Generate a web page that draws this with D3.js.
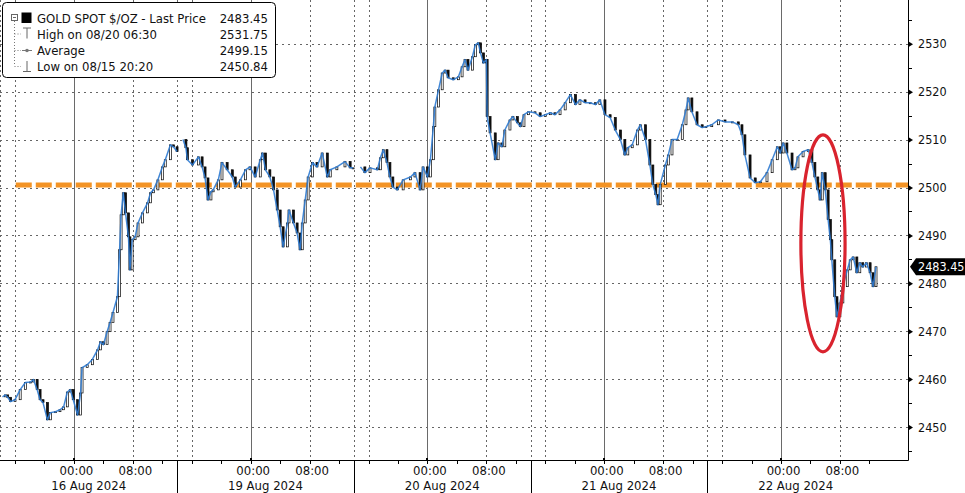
<!DOCTYPE html>
<html><head><meta charset="utf-8">
<script src="https://cdn.jsdelivr.net/npm/d3@7"></script>
<style>
body{margin:0;background:#fff}
svg{display:block}
text{font-family:'DejaVu Sans Condensed','Liberation Sans',sans-serif;fill:#111}
</style>
</head><body><svg id="c" width="965" height="493"></svg>
<script>
// ---------- DATA ----------
// time = trading hours since 15 Aug 14:00 (weekend collapsed, 24h per date block)
const day16 = [[0.3,2456.3],[0.7,2456.7],[1.0,2456.2],[1.4,2455.3],[2.0,2455.7],[2.7,2457.8],[3.4,2459.3],[4.1,2459.4],[4.5,2459.9],[5.0,2457.8],[5.4,2455.7],[5.8,2455.1],[6.4,2451.5],[6.8,2453.0],[7.5,2453.2],[8.1,2453.6],[8.6,2454.2],[9.1,2457.3],[9.5,2457.8],[9.9,2455.7],[10.5,2452.5],[10.9,2457.1],[11.1,2462.4],[11.8,2463.0],[12.5,2464.1],[13.2,2466.1],[13.6,2467.8],[14.0,2467.2],[14.5,2469.9],[14.9,2471.8],[15.3,2473.9],[15.9,2477.2],[16.2,2487.0],[16.4,2494.3],[16.7,2498.9],[17.0,2494.7],[17.4,2489.7],[17.6,2482.8],[17.9,2489.1],[18.3,2489.7],[18.7,2492.6],[19.3,2494.7],[20.0,2496.8],[20.4,2498.9],[20.8,2499.5],[21.4,2501.6],[22.0,2504.3],[22.4,2505.8],[23.1,2508.9],[23.5,2508.5],[24.0,2507.5]];
const day19 = [[24.8,2510.0],[25.2,2508.3],[25.4,2505.8],[26.1,2504.7],[26.9,2506.4],[27.4,2504.3],[27.8,2502.0],[28.2,2497.4],[28.6,2499.1],[28.9,2499.5],[29.6,2501.6],[30.1,2505.2],[30.8,2503.7],[31.5,2502.2],[31.9,2500.1],[32.6,2501.6],[33.3,2503.7],[33.9,2504.3],[34.6,2502.2],[35.3,2505.8],[35.6,2507.2],[36.0,2503.7],[36.6,2502.2],[37.1,2499.5],[37.6,2495.3],[38.0,2491.8],[38.4,2487.6],[39.0,2492.6],[39.2,2495.3],[39.8,2492.6],[40.3,2490.5],[40.7,2487.0],[41.0,2492.6],[41.4,2497.4],[41.8,2502.2],[42.4,2505.2],[43.0,2504.3],[43.7,2507.2],[44.4,2502.2],[44.8,2503.7],[45.7,2504.3],[46.8,2505.4],[47.5,2504.1],[47.9,2504.1]];
const day20 = [[48.9,2504.3],[49.5,2503.1],[50.2,2504.1],[51.2,2503.7],[51.6,2506.2],[52.0,2507.9],[52.5,2505.2],[52.9,2502.2],[53.3,2500.1],[53.9,2499.5],[54.7,2501.6],[55.7,2502.2],[56.3,2503.1],[57.0,2499.5],[57.4,2504.3],[58.0,2502.2],[58.4,2505.8],[58.8,2512.7],[59.0,2516.8],[59.5,2520.4],[60.0,2523.9],[60.4,2524.5],[60.8,2522.9],[61.5,2522.5],[62.2,2523.1],[62.7,2525.2],[63.1,2526.7],[63.5,2524.5],[64.1,2527.3],[64.5,2529.8],[64.9,2530.2],[65.2,2528.1],[65.6,2526.0],[66.0,2526.7],[66.1,2514.8],[66.5,2511.4],[67.2,2505.8],[67.6,2509.3],[68.1,2508.5],[68.5,2512.0],[69.2,2514.1],[69.6,2514.8],[70.2,2513.5],[70.6,2512.7],[71.1,2515.2],[71.7,2515.8]];
const day21 = [[72.6,2515.6],[73.3,2514.8],[74.0,2515.2],[74.7,2515.6],[75.3,2515.2],[76.0,2516.2],[76.7,2517.7],[77.4,2519.4],[78.1,2517.3],[78.7,2518.3],[79.4,2517.7],[80.1,2517.7],[80.8,2517.3],[81.4,2518.3],[82.1,2515.2],[82.8,2514.6],[83.5,2512.0],[84.2,2510.0],[84.8,2506.8],[85.2,2508.3],[85.8,2508.9],[86.5,2512.0],[86.9,2513.1],[87.6,2510.0],[88.2,2504.7],[88.6,2500.6],[89.0,2498.5],[89.3,2496.4],[89.6,2500.6],[90.3,2504.7],[90.7,2506.8],[91.2,2510.0],[91.9,2510.0],[92.6,2513.1],[93.1,2516.2],[93.4,2518.7],[93.9,2515.8],[94.6,2513.1],[95.3,2512.5],[95.8,2512.7]];
const day22 = [[96.6,2513.1],[97.5,2514.1],[98.4,2513.7],[99.4,2513.7],[100.2,2513.1],[100.7,2511.0],[101.1,2506.8],[101.8,2502.0],[102.5,2501.0],[103.2,2501.2],[104.1,2503.1],[104.8,2505.8],[105.5,2508.5],[105.9,2507.2],[106.3,2509.3],[106.8,2507.2],[107.5,2503.7],[107.9,2504.1],[108.3,2506.4],[109.0,2507.5],[109.7,2507.9],[110.2,2505.2],[110.6,2502.2],[111.0,2499.5],[111.3,2497.4],[111.6,2503.1],[112.0,2499.5],[112.4,2493.3],[112.7,2489.1],[112.9,2484.9],[113.3,2477.2],[113.6,2473.0],[114.0,2475.9],[114.4,2479.3],[115.0,2482.8],[115.4,2484.9],[115.8,2485.5],[116.3,2482.2],[116.7,2484.3],[117.1,2483.4],[117.6,2484.3],[118.1,2482.2],[118.5,2479.3],[118.9,2483.45]];

const dayLabels = ["16 Aug 2024","19 Aug 2024","20 Aug 2024","21 Aug 2024","22 Aug 2024"];
const timeLabels = ["00:00","08:00"];
const timeLabelOffsets = [10, 18];      // hours after block start (14:00)
const yTicks = [2450,2460,2470,2480,2490,2500,2510,2520,2530];
const yMinorTicks = [2445,2455,2465,2475,2485,2495,2505,2515,2525,2535];
const lastPrice = 2483.45;
const refLevel = 2500.5;
const legendLabels = ["GOLD SPOT $/OZ - Last Price","High on 08/20 06:30","Average","Low on 08/15 20:20"];
const legendValues = ["2483.45","2531.75","2499.15","2450.84"];
const circleBox = {h0:108.7, h1:114.7, p0:2465.7, p1:2511.0};

// ---------- CHART ----------
const svg = d3.select("#c");
const plotR = 908, plotB = 460;
const x = d3.scaleLinear().domain([0,120]).range([0.3,884.1]);
const y = d3.scaleLinear().domain([2450,2530]).range([427,43.8]);

// grid
const grid = svg.append("g");
grid.selectAll(".hg").data(yTicks).join("line")
  .attr("x1",0).attr("x2",plotR).attr("y1",d=>Math.round(y(d))+0.5).attr("y2",d=>Math.round(y(d))+0.5)
  .attr("stroke","#666").attr("stroke-width",1).attr("stroke-dasharray","2,4");
const vDotted = [], vSolid = [];
dayLabels.forEach((_,i)=>{ const b=i*24; vDotted.push(b, b+2, b+18); vSolid.push(b+10); });
grid.selectAll(".vd").data(vDotted).join("line")
  .attr("x1",d=>Math.round(x(d))+0.5).attr("x2",d=>Math.round(x(d))+0.5).attr("y1",0).attr("y2",plotB)
  .attr("stroke","#666").attr("stroke-width",1).attr("stroke-dasharray","2,3");
grid.selectAll(".vs").data(vSolid).join("line")
  .attr("x1",d=>Math.round(x(d))+0.5).attr("x2",d=>Math.round(x(d))+0.5).attr("y1",0).attr("y2",plotB)
  .attr("stroke","#6a6a6a").attr("stroke-width",1);

// reference dashed line
svg.append("line").attr("x1",x(2.1)).attr("x2",plotR).attr("y1",y(refLevel)).attr("y2",y(refLevel))
  .attr("stroke","#f39325").attr("stroke-width",5).attr("stroke-dasharray","16,4");

// price series: candles (open = previous close) + blue close line
const segments = [day16, day19, day20.concat(day21, day22)];
const candles = [];
segments.forEach(seg=>{ for(let i=1;i<seg.length;i++) candles.push({t:seg[i][0], o:seg[i-1][1], c:seg[i][1]}); });
svg.append("g").selectAll("rect").data(candles).join("rect")
  .attr("x",d=>x(d.t)-1).attr("width",2)
  .attr("y",d=>y(Math.max(d.o,d.c))).attr("height",d=>Math.max(1,Math.abs(y(d.o)-y(d.c))))
  .attr("fill",d=>d.c>=d.o?"#fff":"#111").attr("stroke","#000").attr("stroke-width",0.7);
const line = d3.line().x(d=>x(d[0])).y(d=>y(d[1]));
svg.append("g").selectAll("path").data(segments).join("path")
  .attr("d",line).attr("fill","none").attr("stroke","#2f7bd2").attr("stroke-width",1.5).attr("stroke-linejoin","round")
  .attr("stroke-opacity",0.9);

// red ellipse
svg.append("ellipse")
  .attr("cx",x((circleBox.h0+circleBox.h1)/2)).attr("cy",y((circleBox.p0+circleBox.p1)/2))
  .attr("rx",(x(circleBox.h1)-x(circleBox.h0))/2).attr("ry",(y(circleBox.p0)-y(circleBox.p1))/2)
  .attr("fill","none").attr("stroke","#d9232e").attr("stroke-width",3.2);

// axes frame
svg.append("rect").attr("x",plotR+0.5).attr("y",0).attr("width",965-plotR).attr("height",plotB).attr("fill","#fff");
svg.append("rect").attr("x",0).attr("y",plotB).attr("width",965).attr("height",493-plotB).attr("fill","#fff");
svg.append("line").attr("x1",plotR+0.5).attr("x2",plotR+0.5).attr("y1",0).attr("y2",plotB+0.5).attr("stroke","#000");
svg.append("line").attr("x1",0).attr("x2",plotR+0.5).attr("y1",plotB+0.5).attr("y2",plotB+0.5).attr("stroke","#000");

// right axis
const yAxis = d3.axisRight(y).tickValues(yTicks).tickSize(0).tickPadding(10).tickFormat(d3.format("d"));
const ya = svg.append("g").attr("transform",`translate(${plotR},0)`).call(yAxis);
ya.select(".domain").remove();
ya.selectAll("text").attr("font-size","12.5px").attr("font-family","'DejaVu Sans Condensed','Liberation Sans',sans-serif").attr("fill","#111");
ya.selectAll(".tick").append("path").attr("d","M1,-2.5L5,0L1,2.5Z").attr("fill","#000");
svg.append("g").selectAll("line").data(yMinorTicks).join("line")
  .attr("x1",plotR).attr("x2",plotR+4).attr("y1",d=>Math.round(y(d))+0.5).attr("y2",d=>Math.round(y(d))+0.5).attr("stroke","#000");

// last price tag
const ly = y(lastPrice);
svg.append("path").attr("d",`M${plotR+2},${ly}L${plotR+8},${ly-8.5}H965V${ly+8.5}H${plotR+8}Z`).attr("fill","#000");
svg.append("text").attr("x",plotR+10).attr("y",ly+4.5).attr("font-size","12.5px").style("fill","#fff").text(lastPrice.toFixed(2));

// bottom axis
const xMinor = d3.range(2,120,4);
svg.append("g").selectAll("line").data(xMinor).join("line")
  .attr("x1",d=>Math.round(x(d))+0.5).attr("x2",d=>Math.round(x(d))+0.5).attr("y1",plotB).attr("y2",plotB+4).attr("stroke","#000");
svg.append("g").selectAll("line").data(dayLabels.map((_,i)=>i*24).slice(1)).join("line")
  .attr("x1",d=>Math.round(x(d))+0.5).attr("x2",d=>Math.round(x(d))+0.5).attr("y1",plotB).attr("y2",493).attr("stroke","#000");
const xl = svg.append("g");
dayLabels.forEach((lab,i)=>{
  const b=i*24;
  xl.append("text").attr("x",x(b+12)).attr("y",490).attr("text-anchor","middle").attr("font-size","13px").text(lab);
  timeLabels.forEach((t,j)=>{
    xl.append("text").attr("x",x(b+timeLabelOffsets[j])+2.5).attr("y",475).attr("text-anchor","middle").attr("font-size","13px").text(t);
  });
  xl.append("rect").attr("x",Math.round(x(b+10))-1).attr("y",plotB-2).attr("width",2).attr("height",3).attr("fill","#000");
});

// legend
const lg = svg.append("g");
lg.append("rect").attr("x",2.5).attr("y",2.5).attr("width",273).attr("height",75).attr("rx",4).attr("fill","#fff").attr("stroke","#000");
const rowY = [18,33.5,50,66];
lg.append("line").attr("x1",14.5).attr("x2",14.5).attr("y1",21).attr("y2",rowY[3]).attr("stroke","#777").attr("stroke-dasharray","1,2");
rowY.slice(1).forEach(r=>lg.append("line").attr("x1",14.5).attr("x2",21).attr("y1",r+0.5).attr("y2",r+0.5).attr("stroke","#777").attr("stroke-dasharray","1,2"));
lg.append("rect").attr("x",11.5).attr("y",14.5).attr("width",6).attr("height",6).attr("fill","#fff").attr("stroke","#666");
lg.append("line").attr("x1",13).attr("x2",16).attr("y1",17.5).attr("y2",17.5).attr("stroke","#666");
lg.append("rect").attr("x",21.5).attr("y",12.5).attr("width",10).attr("height",10.5).attr("fill","#000");
lg.append("path").attr("d",`M23,${rowY[1]-5.5}H31M27,${rowY[1]-5.5}V${rowY[1]+5}`).attr("stroke","#666").attr("fill","none");
lg.append("path").attr("d",`M22,${rowY[2]+0.5}H32`).attr("stroke","#777").attr("fill","none");
lg.append("circle").attr("cx",27).attr("cy",rowY[2]+0.5).attr("r",1.8).attr("fill","#777");
lg.append("path").attr("d",`M27,${rowY[3]-5}V${rowY[3]+5.5}M23,${rowY[3]+5.5}H31`).attr("stroke","#666").attr("fill","none");
legendLabels.forEach((t,i)=>{
  lg.append("text").attr("x",37).attr("y",rowY[i]+5).attr("font-size","13px").text(t);
  lg.append("text").attr("x",268).attr("y",rowY[i]+5).attr("text-anchor","end").attr("font-size","13px").text(legendValues[i]);
});
</script>
</body></html>
